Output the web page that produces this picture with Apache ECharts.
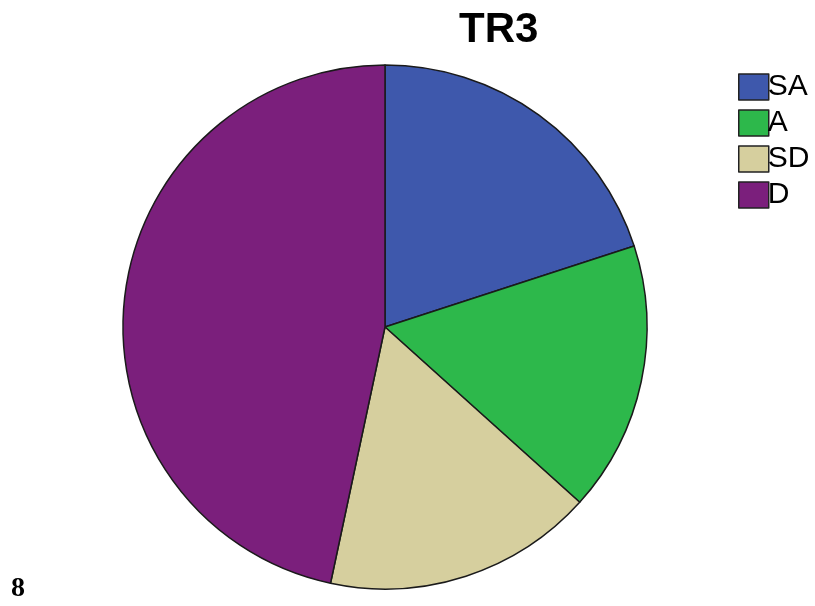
<!DOCTYPE html>
<html>
<head>
<meta charset="utf-8">
<script src="https://cdn.jsdelivr.net/npm/echarts@6/dist/echarts.min.js"></script>
<style>
html,body{margin:0;padding:0;background:#fff;}
#main{width:815px;height:606px;}
</style>
</head>
<body>
<div id="main"></div>
<script>
const categories = ['SA', 'A', 'SD', 'D'];
const values = [12, 10, 10, 28];
const colors = ['#3e58ac', '#2db84b', '#d6cf9e', '#7b1f7c'];

const chart = echarts.init(document.getElementById('main'), null, {renderer: 'canvas'});
chart.setOption({
  backgroundColor: '#ffffff',
  animation: false,
  title: {
    text: 'TR3',
    left: 454,
    top: 4,
    textStyle: {fontFamily: 'Liberation Sans', fontSize: 42, fontWeight: 'bold', color: '#000'}
  },
  legend: {
    orient: 'vertical',
    left: 733,
    top: 67,
    itemWidth: 30,
    itemHeight: 26,
    itemGap: 6,
    icon: 'rect',
    selectedMode: false,
    data: categories,
    itemStyle: {borderColor: '#222', borderWidth: 1.5},
    textStyle: {fontFamily: 'Liberation Sans', fontSize: 30, color: '#000', padding: [0,0,0,-6]}
  },
  graphic: [{
    type: 'text',
    left: 11,
    top: 575,
    style: {text: '8', font: 'bold 28px "Liberation Serif"', fill: '#000'}
  }],
  series: [{
    type: 'pie',
    center: [385, 327],
    radius: 262,
    startAngle: 90,
    clockwise: true,
    label: {show: false},
    labelLine: {show: false},
    emphasis: {disabled: true},
    itemStyle: {borderColor: '#1a1a1a', borderWidth: 1.5},
    data: categories.map((c, i) => ({name: c, value: values[i], itemStyle: {color: colors[i]}}))
  }]
});
</script>
</body>
</html>
